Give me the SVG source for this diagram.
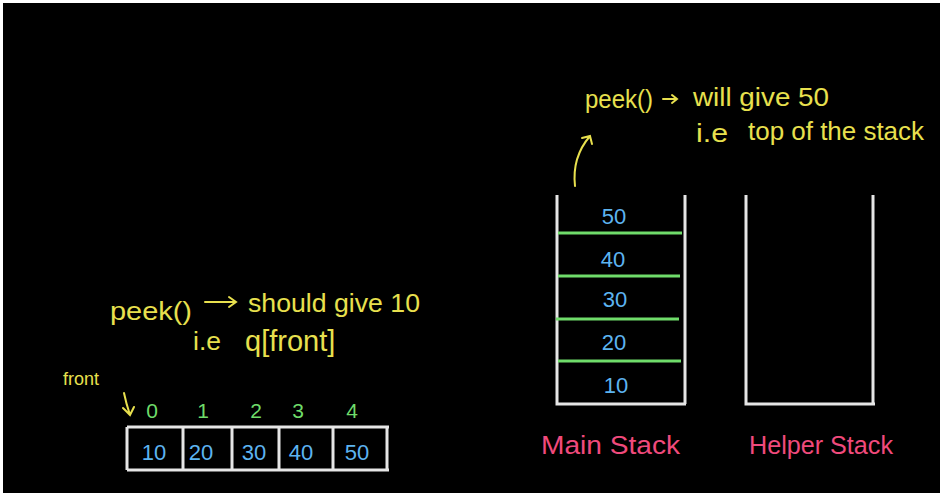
<svg xmlns="http://www.w3.org/2000/svg" width="940" height="493" viewBox="0 0 940 493">
<defs>
<style>
text{font-family:"Liberation Sans","DejaVu Sans",sans-serif}
.y{fill:#e8e04e;font-size:25px}
.b{fill:#5db4f0;font-size:22px;text-anchor:middle}
.g{fill:#6fdc6a;font-size:21px;text-anchor:middle}
.p{fill:#f04a7c;font-size:26px}
.w{stroke:#e6e6e6;stroke-width:3;fill:none}
.gl{stroke:#6fdc6a;stroke-width:3}
.ya{stroke:#e8e04e;stroke-width:2;fill:none;stroke-linecap:round}
</style>
</defs>
<rect width="940" height="493" fill="#ffffff"/>
<rect x="3" y="3" width="937" height="490" fill="#000000"/>

<g id="queue-array">
<path class="w" d="M127 427 H389 M127 470 H389 M127 427 V470 M183 427 V470 M232 427 V470 M279 427 V470 M333 427 V470 M387 427 V470"/>
<text class="b" x="154" y="460">10</text>
<text class="b" x="201" y="460">20</text>
<text class="b" x="254" y="460">30</text>
<text class="b" x="301" y="460">40</text>
<text class="b" x="357" y="460">50</text>
</g>

<g id="indices">
<text class="g" x="152" y="418">0</text>
<text class="g" x="203" y="418">1</text>
<text class="g" x="256" y="418">2</text>
<text class="g" x="298" y="418">3</text>
<text class="g" x="352" y="418">4</text>
</g>

<g id="front-label">
<text class="y" x="63" y="385" style="font-size:18px" textLength="36" lengthAdjust="spacingAndGlyphs">front</text>
</g>

<g id="queue-note">
<text class="y" x="110" y="320" textLength="82" lengthAdjust="spacingAndGlyphs">peek()</text>
<text class="y" x="248" y="312" textLength="172" lengthAdjust="spacingAndGlyphs">should give 10</text>
<text class="y" x="193" y="350" textLength="28" lengthAdjust="spacingAndGlyphs">i.e</text>
<text class="y" x="245" y="351" style="font-size:29px">q[front]</text>
</g>

<g id="main-stack">
<path class="w" d="M557 195 V404 H686 M685 195 V404"/>
<line class="gl" x1="558" y1="233" x2="682" y2="233"/>
<line class="gl" x1="558" y1="276" x2="680" y2="276"/>
<line class="gl" x1="556" y1="319" x2="679" y2="319"/>
<line class="gl" x1="558" y1="361" x2="681" y2="361"/>
<text class="b" x="614" y="224">50</text>
<text class="b" x="613" y="267">40</text>
<text class="b" x="615" y="307">30</text>
<text class="b" x="614" y="350">20</text>
<text class="b" x="616" y="393">10</text>
<text class="p" x="541" y="454" textLength="139" lengthAdjust="spacingAndGlyphs">Main Stack</text>
</g>

<g id="helper-stack">
<path class="w" d="M746 195 V404 H875 M873 195 V404"/>
<text class="p" x="749" y="454" textLength="144" lengthAdjust="spacingAndGlyphs">Helper Stack</text>
</g>

<g id="stack-note">
<text class="y" x="585" y="108" textLength="68" lengthAdjust="spacingAndGlyphs">peek()</text>
<text class="y" x="693" y="106" textLength="136" lengthAdjust="spacingAndGlyphs">will give 50</text>
<text class="y" x="696" y="142" textLength="32" lengthAdjust="spacingAndGlyphs">i.e</text>
<text class="y" x="748" y="140" textLength="176" lengthAdjust="spacingAndGlyphs">top of the stack</text>
</g>

<g id="connectors">
<path class="ya" d="M205 302 H236 M229 297 L236 302 L229 307"/>
<path class="ya" d="M663 99 H677 M672 95 L677 99 L672 103"/>
<path class="ya" d="M575 186 C573 168 578 150 590 136 M582 138 L590 136 L592 144"/>
<path class="ya" d="M124 393 C126 403 128 409 130 415 M123 408 L130 415 L134 407"/>
</g>
</svg>
